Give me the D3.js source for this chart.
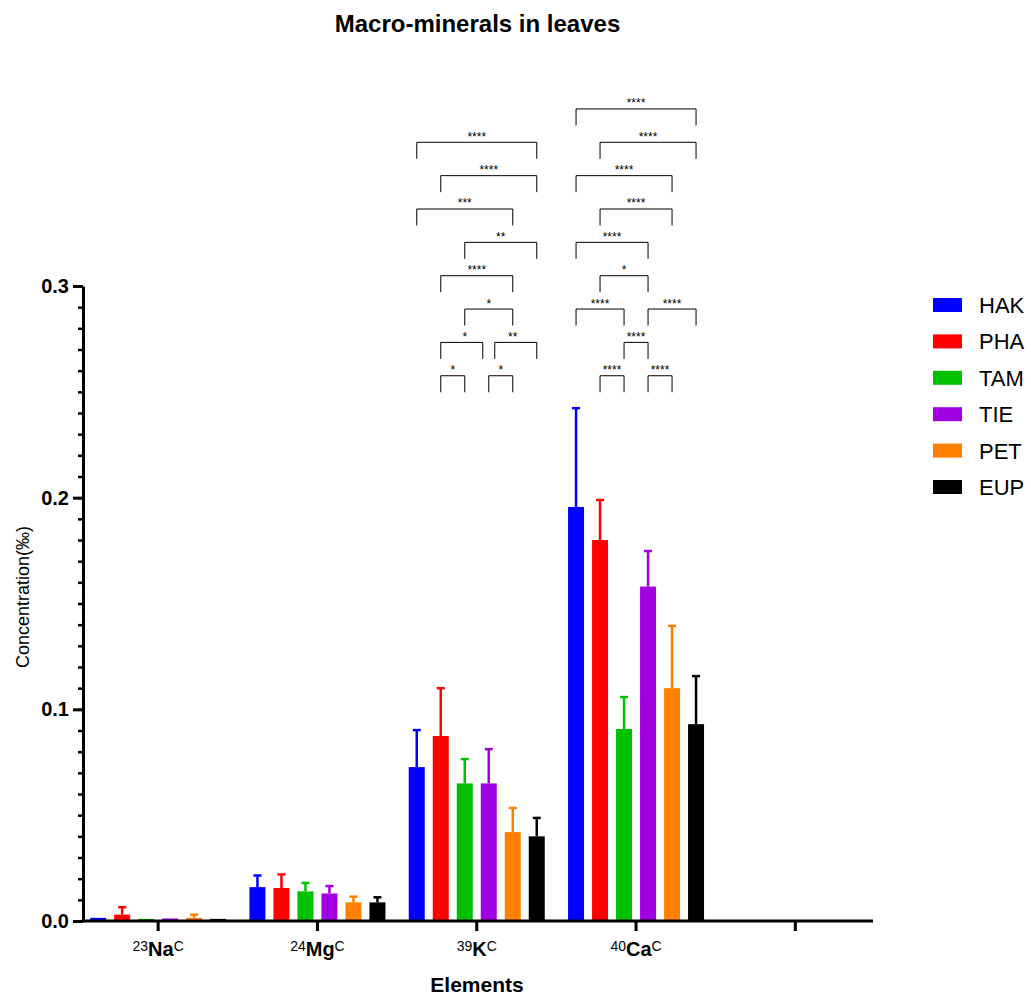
<!DOCTYPE html>
<html>
<head>
<meta charset="utf-8">
<script src="https://cdn.jsdelivr.net/npm/d3@7"></script>
<style>
  body { margin: 0; background: #fff; }
  text { font-family: "Liberation Sans", Arial, sans-serif; }
</style>
</head>
<body>
<svg id="chart" width="1031" height="998"></svg>
<script>
// categories: mass number, symbol (last one is an empty slot on the axis)
const elements = [
  {mass: "23", sym: "Na"},
  {mass: "24", sym: "Mg"},
  {mass: "39", sym: "K"},
  {mass: "40", sym: "Ca"},
  {mass: "", sym: ""}
];
const groups = ["HAK", "PHA", "TAM", "TIE", "PET", "EUP"];
const colors = ["#0000ff", "#ff0000", "#00c000", "#a000e0", "#ff8000", "#000000"];

// means per element, in group order
const meanNa = [0.0015, 0.003, 0.001, 0.0012, 0.0015, 0.001];
const meanMg = [0.016, 0.0156, 0.014, 0.013, 0.0088, 0.0088];
const meanK  = [0.0727, 0.0874, 0.065, 0.065, 0.042, 0.040];
const meanCa = [0.1956, 0.180, 0.0907, 0.158, 0.110, 0.093];
// upper end of the error bars
const errNa = [0.0015, 0.0065, 0.001, 0.0012, 0.003, 0.001];
const errMg = [0.0215, 0.022, 0.018, 0.0165, 0.0115, 0.0112];
const errK  = [0.0902, 0.110, 0.0765, 0.0812, 0.0534, 0.0487];
const errCa = [0.2423, 0.1989, 0.1058, 0.1748, 0.1394, 0.1157];

const yTicks = [0.0, 0.1, 0.2, 0.3];

// significance brackets: from group, to group, level, label
const sigK = [
  ["PHA", "TAM", 0, "*"], ["TIE", "PET", 0, "*"],
  ["PHA", "TIE", 1, "*"], ["TIE", "EUP", 1, "**"],
  ["TAM", "PET", 2, "*"],
  ["PHA", "PET", 3, "****"],
  ["TAM", "EUP", 4, "**"],
  ["HAK", "PET", 5, "***"],
  ["PHA", "EUP", 6, "****"],
  ["HAK", "EUP", 7, "****"]
];
const sigCa = [
  ["PHA", "TAM", 0, "****"], ["TIE", "PET", 0, "****"],
  ["TAM", "TIE", 1, "****"],
  ["HAK", "TAM", 2, "****"], ["TIE", "EUP", 2, "****"],
  ["PHA", "TIE", 3, "*"],
  ["HAK", "TIE", 4, "****"],
  ["PHA", "PET", 5, "****"],
  ["HAK", "PET", 6, "****"],
  ["PHA", "EUP", 7, "****"],
  ["HAK", "EUP", 8, "****"]
];

const means = [meanNa, meanMg, meanK, meanCa];
const errs = [errNa, errMg, errK, errCa];
const bars = [];
means.forEach((m, i) => m.forEach((v, j) => {
  bars.push({el: elements[i].sym, grp: groups[j], col: colors[j], v: v, e: errs[i][j]});
}));

const svg = d3.select("#chart");

const x = d3.scaleBand()
  .domain(elements.map((d, i) => i))
  .range([78.5, 875]);
const xg = d3.scaleBand()
  .domain(groups)
  .range([0, 144])
  .paddingInner(1 / 3)
  .paddingOuter(1 / 6);
const y = d3.scaleLinear()
  .domain([0, 0.3])
  .range([921, 286]);

const elIdx = s => elements.findIndex(d => d.sym === s);
const barX = (el, g) => x(elIdx(el)) + x.bandwidth() / 2 - 72 + xg(g);
const barC = (el, g) => barX(el, g) + xg.bandwidth() / 2;

// title
svg.append("text")
  .attr("x", 477.5).attr("y", 32)
  .attr("text-anchor", "middle")
  .style("font-size", "24px").style("font-weight", "bold")
  .text("Macro-minerals in leaves");

// bars
svg.append("g").selectAll("rect")
  .data(bars).enter().append("rect")
  .attr("x", d => barX(d.el, d.grp))
  .attr("width", xg.bandwidth())
  .attr("y", d => y(d.v))
  .attr("height", d => y(0) - y(d.v))
  .attr("fill", d => d.col);

// error bars
const eb = svg.append("g").selectAll("g")
  .data(bars.filter(d => d.e > d.v + 0.0004)).enter().append("g")
  .attr("stroke", d => d.col).attr("stroke-width", 2.5);
eb.append("line")
  .attr("x1", d => barC(d.el, d.grp)).attr("x2", d => barC(d.el, d.grp))
  .attr("y1", d => y(d.v)).attr("y2", d => y(d.e));
eb.append("line")
  .attr("x1", d => barC(d.el, d.grp) - 4).attr("x2", d => barC(d.el, d.grp) + 4)
  .attr("y1", d => y(d.e)).attr("y2", d => y(d.e));

// y axis
const yAxis = svg.append("g").attr("transform", "translate(83,0)");
yAxis.call(d3.axisLeft(y).tickValues(yTicks).tickFormat(d3.format(".1f")).tickSize(10).tickSizeOuter(0));
yAxis.select(".domain").attr("stroke-width", 3);
yAxis.selectAll(".tick line").attr("stroke-width", 3);
yAxis.selectAll(".tick text")
  .style("font-size", "20px").style("font-weight", "bold")
  .style("font-family", "Liberation Sans, Arial, sans-serif")
  .attr("x", -14);
svg.append("g").attr("transform", "translate(83,0)")
  .call(d3.axisLeft(y).ticks(30).tickSize(5).tickFormat(""))
  .call(g => g.select(".domain").remove())
  .selectAll(".tick line").attr("stroke-width", 2.5);

// x axis
const xAxis = svg.append("g").attr("transform", "translate(0,921)");
xAxis.call(d3.axisBottom(x).tickSize(10).tickSizeOuter(0).tickFormat(""));
xAxis.select(".domain").attr("d", "M81.5,0H873").attr("stroke-width", 3);
xAxis.selectAll(".tick line").attr("stroke-width", 3);

const lab = svg.append("g").selectAll("text")
  .data(elements.filter(d => d.sym)).enter().append("text")
  .attr("x", (d, i) => x(i) + x.bandwidth() / 2)
  .attr("y", 956)
  .attr("text-anchor", "middle");
lab.append("tspan").attr("dy", -5).style("font-size", "14px").text(d => d.mass);
lab.append("tspan").attr("dy", 5).style("font-size", "20px").style("font-weight", "bold").text(d => d.sym);
lab.append("tspan").attr("dy", -5).style("font-size", "14px").text("C");

// axis titles
svg.append("text")
  .attr("x", 477).attr("y", 992)
  .attr("text-anchor", "middle")
  .style("font-size", "21px").style("font-weight", "bold")
  .text("Elements");
svg.append("text")
  .attr("transform", "translate(29,597) rotate(-90)")
  .attr("text-anchor", "middle")
  .style("font-size", "18px")
  .text("Concentration(‰)");

// significance brackets
const level0 = y(0.2576), step = 33.35, leg = 16.5, inset = 6;
function drawSig(el, list) {
  const g = svg.append("g");
  list.forEach(s => {
    let x1 = barC(el, s[0]), x2 = barC(el, s[1]);
    // shorten where two brackets on one level meet at the same bar
    list.forEach(o => {
      if (o === s || o[2] !== s[2]) return;
      if (o[1] === s[0]) x1 += inset;
      if (o[0] === s[1]) x2 -= inset;
    });
    const yy = level0 - s[2] * step;
    g.append("path")
      .attr("d", `M${x1},${yy + leg}V${yy}H${x2}V${yy + leg}`)
      .attr("fill", "none").attr("stroke", "#000").attr("stroke-width", 1);
    g.append("text")
      .attr("x", (barC(el, s[0]) + barC(el, s[1])) / 2)
      .attr("y", yy - 1.5)
      .attr("text-anchor", "middle")
      .style("font-size", "12px")
      .text(s[3]);
  });
}
drawSig("K", sigK);
drawSig("Ca", sigCa);

// legend
const lg = svg.append("g").selectAll("g")
  .data(groups).enter().append("g")
  .attr("transform", (d, i) => `translate(933,${305 + i * 36.4})`);
lg.append("rect")
  .attr("x", 0).attr("y", -7).attr("width", 29).attr("height", 14)
  .attr("fill", (d, i) => colors[i]);
lg.append("text")
  .attr("x", 46).attr("y", 8)
  .style("font-size", "22px")
  .text(d => d);
</script>
</body>
</html>
